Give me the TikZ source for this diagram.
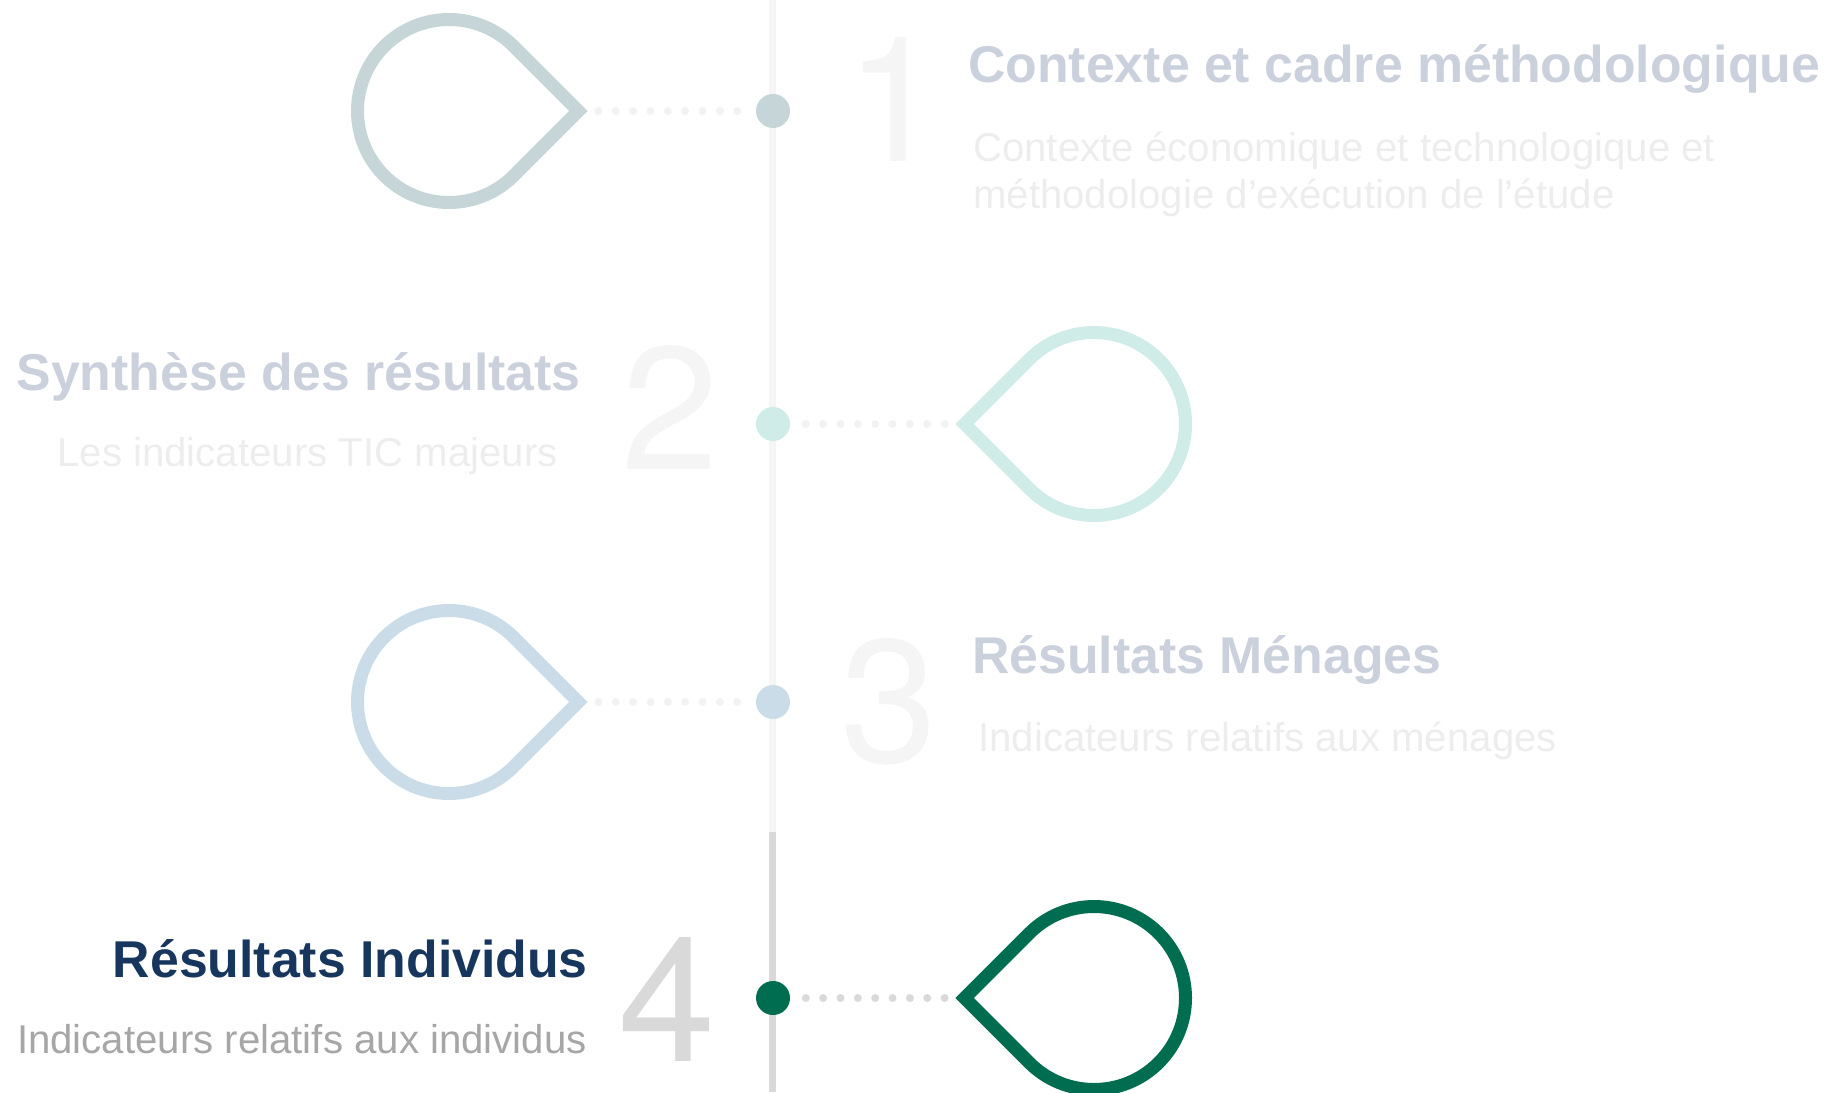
\documentclass[tikz,border=0pt]{standalone}
\usepackage{fontspec}
\setmainfont{Liberation Sans}
\newfontfamily\numfont{TeX Gyre Heros}
\usetikzlibrary{positioning}
\definecolor{tealA}{HTML}{C5D5D8}
\definecolor{tealB}{HTML}{CFECE9}
\definecolor{blueC}{HTML}{CBDCE9}
\definecolor{greenD}{HTML}{006D50}
\definecolor{navyD}{HTML}{17365D}
\definecolor{navyfade}{HTML}{CAD1DC}
\definecolor{greyfade}{HTML}{EDEDED}
\definecolor{numfade}{HTML}{F5F5F5}
\tikzset{
  dropline/.style={ line width=13pt, fill=none }
}
\tikzset{
  bullet/.style={ circle, minimum size=34pt, inner sep=0pt, outer sep=0pt }
}
\tikzset{
  dotline/.style={ line width=8pt, line cap=round, dash pattern=on 0pt off 17.35pt, shorten <=20pt, shorten >=14pt }
}
\tikzset{
  stem/.style={ line width=6.5pt }
}
\tikzset{
  title/.style={ inner sep=0pt, font=\fontsize{51.8}{52}\selectfont\bfseries }
}
\tikzset{
  subtitle/.style={ inner sep=0pt, font=\fontsize{40.2}{48}\selectfont }
}
\tikzset{
  bignum/.style={ inner sep=0pt, font=\fontsize{175}{175}\selectfont\numfont }
}

\begin{document}
\begin{tikzpicture}[x=1pt, y=1pt]
      \useasboundingbox (0, 0) rectangle (1825, -1092);
      \coordinate (top) at (772.5, 0);
      \coordinate (mid) at (772.5, -832);
      \coordinate (bot) at (772.5, -1092);
      \draw[stem, draw=numfade] (top) -- (mid);
      \draw[stem, draw=black!15] (mid) -- (bot);
      % bullets on the stem
      \node[bullet, fill=tealA] (dotA) at (773, -111) {};
      \node[bullet, fill=tealB] (dotB) at (773, -424) {};
      \node[bullet, fill=blueC] (dotC) at (773, -702) {};
      \node[bullet, fill=greenD] (dotD) at (773, -998) {};
      \coordinate (tipA) at (578.4, -111);
      \coordinate (tipB) at (964.6, -424);
      \coordinate (tipC) at (578.4, -702);
      \coordinate (tipD) at (964.6, -998);
      \draw[dropline, draw=tealA] (tipA) -- ++(-64.7, 64.7) arc (45:315:91.5) -- cycle;
      \draw[dropline, draw=tealB] (tipB) -- ++(64.7, 64.7) arc (135:-135:91.5) -- cycle;
      \draw[dropline, draw=blueC] (tipC) -- ++(-64.7, 64.7) arc (45:315:91.5) -- cycle;
      \draw[dropline, draw=greenD] (tipD) -- ++(64.7, 64.7) arc (135:-135:91.5) -- cycle;
      \draw[dotline, draw=black!5] (tipA) -- (dotA);
      \draw[dotline, draw=black!5] (tipB) -- (dotB);
      \draw[dotline, draw=black!5] (tipC) -- (dotC);
      \draw[dotline, draw=black!15] (tipD) -- (dotD);
      % numbers
      \node[bignum, text=numfade, anchor=base east] (numA) at (943, -161) {1};
      \node[bignum, text=numfade, anchor=base east] (numB) at (719, -469) {2};
      \node[bignum, text=numfade, anchor=base east] (numC) at (938, -762) {3};
      \node[bignum, text=black!15, anchor=base east] (numD) at (716, -1061) {4};
      % texts
      \node[title, text=navyfade, anchor=base west] (titleA) at (968, -82) {Contexte et cadre méthodologique};
      \node[subtitle, text=greyfade, anchor=base west] (subA) at (973, -161) {Contexte économique et technologique et};
      \node[subtitle, text=greyfade, anchor=base west] (subAb) at (973, -208) {méthodologie d’exécution de l’étude};
      \node[title, text=navyfade, anchor=base east] (titleB) at (581, -390) {Synthèse des résultats};
      \node[subtitle, text=greyfade, anchor=base east] (subB) at (558, -466) {Les indicateurs TIC majeurs};
      \node[title, text=navyfade, anchor=base west] (titleC) at (972, -673) {Résultats Ménages};
      \node[subtitle, text=greyfade, anchor=base west] (subC) at (978, -751) {Indicateurs relatifs aux ménages};
      \node[title, text=navyD, anchor=base east] (titleD) at (588, -977) {Résultats Individus};
      \node[subtitle, text=black!35, anchor=base east] (subD) at (587, -1053) {Indicateurs relatifs aux individus};
    \end{tikzpicture}
\end{document}
